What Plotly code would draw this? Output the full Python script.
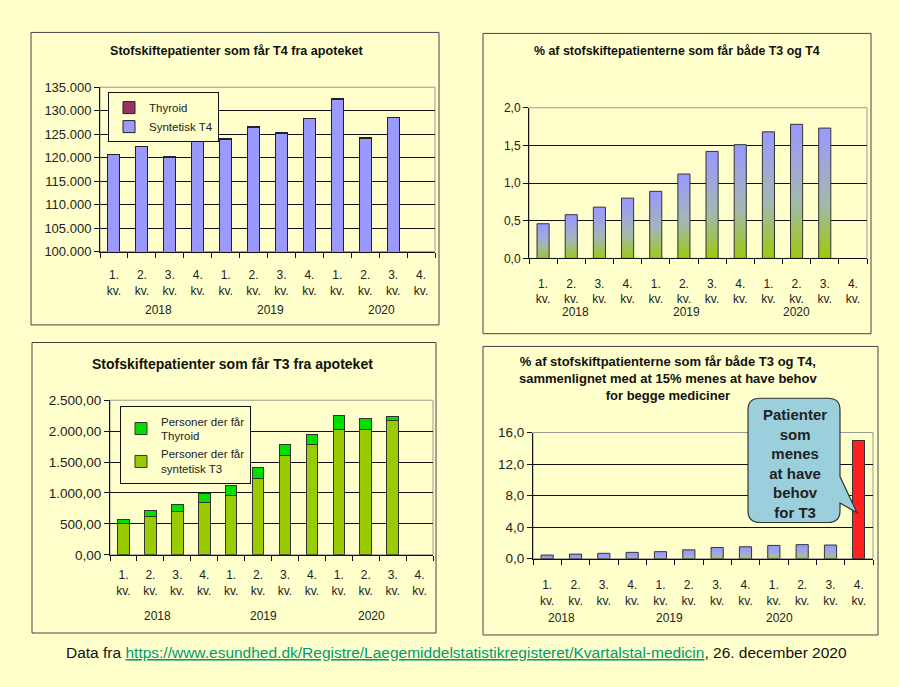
import plotly.graph_objects as go

W, H = 899, 687

# ---- data ----
quarter_labels = ["1.<br>kv.", "2.<br>kv.", "3.<br>kv.", "4.<br>kv."] * 3
years = ["2018", "2019", "2020"]

# T4 patients (top left)
syntetisk_t4 = [120580, 122300, 120120, 123970, 123960, 126430, 125100, 128230, 132340, 124120, 128530, None]
thyroid_t4 = [68, 90, 116, 148, 158, 173, 174, 168, 227, 179, 69, None]

# T3 patients (bottom left)
syntetisk_t3 = [500, 620, 700, 842, 958, 1237, 1605, 1779, 2026, 2026, 2168, None]
thyroid_t3 = [68, 90, 116, 148, 158, 173, 174, 168, 227, 179, 69, None]

# % getting both T3 and T4
pct_both = [0.46, 0.58, 0.68, 0.80, 0.89, 1.12, 1.42, 1.51, 1.68, 1.78, 1.73, None]
# % believed to need both (shown at 4. kv. 2020)
pct_need = [None, None, None, None, None, None, None, None, None, None, None, 15.0]

BG = "#FFFFCC"
FONT = "Liberation Sans, Arial, sans-serif"
BW = 0.43  # bar width


def px(x):
    return x / W


def py(y):
    return 1 - y / H


fig = go.Figure()
idx = list(range(12))

# panel 1: stacked T4
fig.add_trace(go.Bar(x=idx, y=syntetisk_t4, name="Syntetisk T4", width=BW,
                     marker=dict(color="#9999FF", line=dict(color="#222", width=1)),
                     xaxis="x", yaxis="y", legend="legend"))
fig.add_trace(go.Bar(x=idx, y=thyroid_t4, name="Thyroid", width=BW,
                     marker=dict(color="#993366", line=dict(color="#222", width=1)),
                     xaxis="x", yaxis="y", legend="legend"))

# panel 3: stacked T3
fig.add_trace(go.Bar(x=idx, y=syntetisk_t3, name="Personer der får<br>syntetisk T3", width=BW,
                     marker=dict(color="#99CC00", line=dict(color="#333", width=1)),
                     xaxis="x3", yaxis="y3", legend="legend2"))
fig.add_trace(go.Bar(x=idx, y=thyroid_t3, name="Personer der får<br>Thyroid", width=BW,
                     marker=dict(color="#00E000", line=dict(color="#333", width=1)),
                     xaxis="x3", yaxis="y3", legend="legend2"))


def gradient_bars(vals, xa, ya):
    # bars with blue-to-green vertical fill, like the original
    for i, v in enumerate(vals):
        if v is None:
            continue
        fig.add_trace(go.Scatter(
            x=[i - BW / 2, i - BW / 2, i + BW / 2, i + BW / 2, i - BW / 2],
            y=[0, v, v, 0, 0],
            mode="lines", fill="toself",
            fillgradient=dict(type="vertical", start=0, stop=v,
                              colorscale=[[0, "#99CC00"], [0.45, "#A3B8B0"], [1, "#9999FF"]]),
            line=dict(color="#333", width=1),
            showlegend=False, hoverinfo="skip",
            xaxis=xa, yaxis=ya))


gradient_bars(pct_both, "x2", "y2")
gradient_bars(pct_both, "x4", "y4")

fig.add_trace(go.Bar(x=idx, y=pct_need, width=BW, showlegend=False,
                     marker=dict(color="#FF2020", line=dict(color="#333", width=1)),
                     xaxis="x4", yaxis="y4"))

# axes
domains = {
    "1": ([100, 435], [82, 250]),
    "2": ([529, 867], [103, 257]),
    "3": ([110, 433], [402, 560]),
    "4": ([533, 873], [435, 564]),
}
yspecs = {
    "1": dict(range=[100000, 135000], dtick=5000, tickformat=",.0f", tickfont_size=13),
    "2": dict(range=[0, 2], dtick=0.5, tickformat=".1f", tickfont_size=12),
    "3": dict(range=[0, 2500], dtick=500, tickformat=",.2f", tickfont_size=13.5),
    "4": dict(range=[0, 16], dtick=4, tickformat=".1f", tickfont_size=13.5),
}
standoff = {"1": 12, "2": 14, "3": 9, "4": 15}

for k, (dx, dy) in domains.items():
    sfx = "" if k == "1" else k
    ys = yspecs[k]
    fig.layout["xaxis" + sfx] = dict(
        domain=[px(dx[0]), px(dx[1])], anchor="y" + sfx,
        range=[-0.5, 11.5], tickmode="array", tickvals=idx, ticktext=quarter_labels,
        ticks="", showgrid=False, zeroline=False,
        showline=True, linecolor="#111", linewidth=1,
        minor=dict(tickmode="array", tickvals=[i - 0.5 for i in range(13)],
                   ticks="outside", ticklen=5, tickcolor="#111", showgrid=False),
        tickfont=dict(size=12, color="#222"), ticklabelstandoff=standoff[k],
        fixedrange=True)
    fig.layout["yaxis" + sfx] = dict(
        domain=[py(dy[1]), py(dy[0])], anchor="x" + sfx,
        range=ys["range"], dtick=ys["dtick"], tickformat=ys["tickformat"],
        showgrid=True, gridcolor="#111", gridwidth=1, zeroline=False,
        showline=True, linecolor="#111", linewidth=1,
        ticks="outside", ticklen=5, tickcolor="#111",
        tickfont=dict(size=ys["tickfont_size"], color="#222"),
        fixedrange=True)

shapes = []
# panel frames
for x0, y0, x1, y1 in [(31, 26, 439, 325), (483, 27, 871, 334), (32, 343, 436, 640), (483, 347, 878, 642)]:
    shapes.append(dict(type="rect", xref="paper", yref="paper",
                       x0=px(x0), x1=px(x1), y0=py(y1), y1=py(y0),
                       line=dict(color="#444", width=1), fillcolor=BG, layer="below"))
# plot area borders
for sfx in ["", "2", "3", "4"]:
    shapes.append(dict(type="rect", xref="x" + sfx + " domain", yref="y" + sfx + " domain",
                       x0=0, x1=1, y0=0, y1=1, line=dict(color="#999", width=1), layer="below"))

# speech bubble
pts = "M 760,400 L 828,400 Q 840,400 840,412 L 840,480 L 857,517 L 840,507 L 840,515 " \
      "Q 840,527 828,527 L 760,527 Q 748,527 748,515 L 748,412 Q 748,400 760,400 Z"
path = []
for tok in pts.split():
    if "," in tok:
        a, b = tok.split(",")
        path.append(f"{px(float(a)):.5f},{py(float(b)):.5f}")
    else:
        path.append(tok)
shapes.append(dict(type="path", xref="paper", yref="paper", path=" ".join(path),
                   fillcolor="#9CCFDC", line=dict(color="#333", width=1.2), layer="above"))

annotations = []
titles = [
    ("Stofskiftepatienter som får T4 fra apoteket", 236, 45, 12.6),
    ("% af stofskiftepatienterne som får både T3 og T4", 677, 45, 12.4),
    ("Stofskiftepatienter som får T3 fra apoteket", 232, 365, 14),
    ("% af stofskiftpatienterne som får både T3 og T4,<br>sammenlignet med at 15% menes at have behov<br>for begge mediciner", 668, 380, 13),
]
for txt, x, y, s in titles:
    annotations.append(dict(text="<b>" + txt + "</b>", x=px(x), y=py(y), xref="paper", yref="paper",
                            xanchor="center", yanchor="middle",
                            showarrow=False, font=dict(size=s, color="#111"), align="center"))

year_pos = {"": ([1.6, 5.6, 9.6], 310), "2": ([1.15, 5.1, 9.0], 312),
            "3": ([1.25, 5.2, 9.2], 623), "4": ([0.5, 4.3, 8.2], 625)}
for sfx, (xs, y) in year_pos.items():
    for xv, yr in zip(xs, years):
        annotations.append(dict(text=yr, x=xv, y=py(y), xref="x" + sfx, yref="paper",
                                xanchor="center", yanchor="middle",
                                showarrow=False, font=dict(size=12, color="#222")))

annotations.append(dict(text="<b>Patienter<br>som<br>menes<br>at have<br>behov<br>for T3</b>",
                        x=px(795), y=py(467), xref="paper", yref="paper", showarrow=False,
                        xanchor="center", yanchor="middle",
                        font=dict(size=15, color="#222"), align="center"))

url = "https://www.esundhed.dk/Registre/Laegemiddelstatistikregisteret/Kvartalstal-medicin"
annotations.append(dict(
    text='Data fra <span style="color:#009977"><u>' + url + '</u></span>, 26. december 2020',
    x=px(456), y=py(660), xref="paper", yref="paper", showarrow=False,
    xanchor="center", yanchor="middle",
    font=dict(size=15.5, color="#111")))

fig.update_layout(
    width=W, height=H, autosize=False,
    margin=dict(l=0, r=0, t=0, b=0),
    paper_bgcolor=BG, plot_bgcolor=BG,
    font=dict(family=FONT, color="#222"),
    separators=",.",
    barmode="stack",
    shapes=shapes, annotations=annotations,
    legend=dict(x=px(108), y=py(87), xanchor="left", yanchor="top",
                bgcolor=BG, bordercolor="#111", borderwidth=1,
                font=dict(size=11.5), traceorder="reversed", tracegroupgap=0,
                itemwidth=30),
    legend2=dict(x=px(120), y=py(408), xanchor="left", yanchor="top",
                 bgcolor=BG, bordercolor="#111", borderwidth=1,
                 font=dict(size=11.5), traceorder="reversed", tracegroupgap=0,
                 itemwidth=30),
)

page_css = ("document.documentElement.style.margin='0px';"
            "document.body.style.margin='0px';"
            "document.documentElement.style.overflow='hidden';"
            "document.body.style.overflow='hidden';")
fig.write_html("out.html", config={"displayModeBar": False}, post_script=page_css)
